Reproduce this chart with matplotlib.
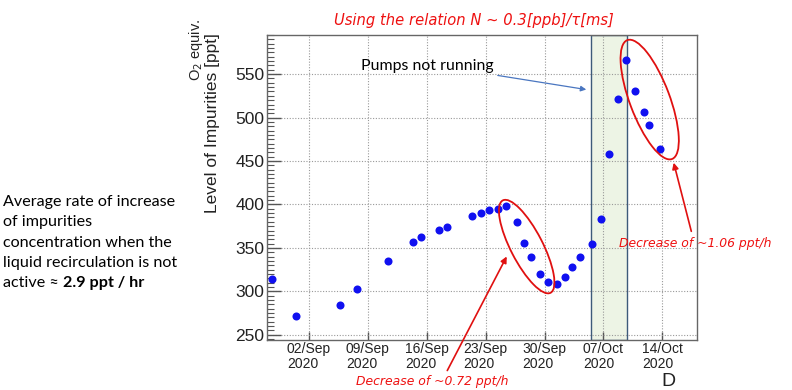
import matplotlib
matplotlib.use("Agg")
import matplotlib.pyplot as plt
import matplotlib.dates as mdates
from matplotlib.patches import Ellipse
from matplotlib.transforms import ScaledTranslation
import pandas as pd

# ---- data ----
dates = ["2020-08-28 14:00", "2020-08-31 12:00", "2020-09-05 17:30", "2020-09-07 16:00",
         "2020-09-11 10:00", "2020-09-14 08:00", "2020-09-15 07:00", "2020-09-17 10:00",
         "2020-09-18 11:00", "2020-09-21 10:00", "2020-09-22 10:00", "2020-09-23 09:00",
         "2020-09-24 11:00", "2020-09-25 09:00", "2020-09-26 16:00", "2020-09-27 14:00",
         "2020-09-28 08:00", "2020-09-29 10:00", "2020-09-30 09:00", "2020-10-01 11:00",
         "2020-10-02 09:00", "2020-10-03 07:00", "2020-10-04 06:30", "2020-10-05 15:00",
         "2020-10-06 16:30", "2020-10-07 17:00", "2020-10-08 17:00", "2020-10-09 16:30",
         "2020-10-10 17:00", "2020-10-11 19:00", "2020-10-12 11:00", "2020-10-13 16:30"]
impurities = [314, 272, 284, 303, 335, 357, 363, 371, 374.5, 387, 390, 394, 395, 398, 380, 356,
              339, 320, 311, 308, 317, 328, 339, 355, 383, 458, 521, 566, 531, 506, 491, 464]
tick_dates = ["2020-09-02", "2020-09-09", "2020-09-16", "2020-09-23", "2020-09-30",
              "2020-10-07", "2020-10-14"]
pumps_off = ["2020-10-05 12:00", "2020-10-09 20:00"]
x_range = ["2020-08-28 00:00", "2020-10-18 03:00"]
y_range = [244, 595]

x = pd.to_datetime(dates)
xt = pd.to_datetime(tick_dates)

fig = plt.figure(figsize=(7.92, 3.90), dpi=100)
ax = fig.add_axes([267/792, 1 - 340/390, 430/792, 305/390])

ax.axvspan(pd.Timestamp(pumps_off[0]), pd.Timestamp(pumps_off[1]),
           facecolor="#edf4e5", edgecolor="#3d5a7a", linewidth=1.0, zorder=1)
ax.plot(x, impurities, "o", color="#1010f0", markersize=5.8, markeredgewidth=0, zorder=3)

ax.set_xlim(pd.Timestamp(x_range[0]), pd.Timestamp(x_range[1]))
ax.set_ylim(*y_range)
ax.set_xticks(xt)
ax.xaxis.set_major_formatter(mdates.DateFormatter("%d/%b\n%Y"))
ax.yaxis.set_major_locator(matplotlib.ticker.MultipleLocator(50))
ax.yaxis.set_minor_locator(matplotlib.ticker.MultipleLocator(5))
ax.tick_params(axis="y", which="major", direction="in", length=10, width=1, color="#555555",
               labelsize=12.5, pad=2)
ax.tick_params(axis="y", which="minor", direction="in", length=5, width=0.8, color="#555555")
ax.tick_params(axis="x", which="major", direction="in", length=6, width=1, color="#555555",
               labelsize=10, pad=1.5)
for lab in ax.get_xticklabels():
    lab.set_multialignment("left")
    lab.set_linespacing(1.05)
for lab in ax.get_xticklabels() + ax.get_yticklabels():
    lab.set_fontfamily("Liberation Sans")
    lab.set_color("#222222")
ax.grid(True, which="major", linestyle=(0, (1, 1.5)), color="#999999", linewidth=0.8, zorder=0)
for s in ax.spines.values():
    s.set_color("#666666")
    s.set_linewidth(1.0)

# axis titles
fig.text(212/792, 1 - 123/390, "Level of Impurities [ppt]", rotation=90, ha="center", va="center",
         fontsize=12.5, family="Liberation Sans", color="#222222")
fig.text(196/792, 1 - 50/390, "O$_2$ equiv.", rotation=90, ha="center", va="center",
         fontsize=10.5, family="Liberation Sans", color="#222222")
fig.text(668/792, 1 - 381/390, "D", ha="center", va="center", fontsize=14,
         family="Liberation Sans", color="#222222")

# title
fig.text(474/792, 1 - 21/390, "Using the relation N ~ 0.3[ppb]/\u03c4[ms]", ha="center", va="center",
         fontsize=10.6, style="italic", family="DejaVu Sans", color="#ee1111")

# left note
note_fs = 11.6
note_lines = ["Average rate of increase", "of impurities", "concentration when the",
              "liquid recirculation is not"]
for i, t in enumerate(note_lines):
    fig.text(3/792, 1 - (202 + 20.3*i)/390, t, ha="left", va="center", fontsize=note_fs,
             family="Lato", color="black")
t1 = fig.text(3/792, 1 - (202 + 20.3*4)/390, "active \u2248", ha="left", va="center",
              fontsize=note_fs, family=["Lato", "DejaVu Sans"], color="black")
r = fig.canvas.get_renderer()
bb = t1.get_window_extent(renderer=r)
fig.text(bb.x1/792 + 4/792, 1 - (202 + 20.3*4)/390, "2.9 ppt / hr", ha="left", va="center",
         fontsize=note_fs, family="Lato", weight="bold", color="black")

# pumps annotation
fig.text(427/792, 1 - 66/390, "Pumps not running", ha="center", va="center", fontsize=11.4,
         family="Lato", color="black")
ax.annotate("", xy=(589, 390 - 90), xycoords="figure pixels", xytext=(495, 390 - 75),
            textcoords="figure pixels",
            arrowprops=dict(arrowstyle="-|>", color="#4a76c0", lw=0.9, mutation_scale=8))

# ellipses around decreasing segments
def ell(xc, yc, w, h, ang):
    tr = fig.dpi_scale_trans + ScaledTranslation(mdates.date2num(pd.Timestamp(xc)), yc, ax.transData)
    e = Ellipse((0, 0), w, h, angle=ang, transform=tr, fill=False, edgecolor="#e01010", lw=1.3,
                zorder=4, clip_on=False)
    ax.add_patch(e)

ell("2020-09-27 21:00", 351.5, 1.04, 0.32, -62.7)
ell("2020-10-12 12:00", 520.7, 1.27, 0.40, -69.4)

# decrease annotations
fig.text(432/792, 1 - 381/390, "Decrease of ~0.72 ppt/h", ha="center", va="center", fontsize=8.9,
         style="italic", family="DejaVu Sans", color="#ee1111")
ax.annotate("", xy=(508, 390 - 254), xycoords="figure pixels", xytext=(446, 390 - 373),
            textcoords="figure pixels",
            arrowprops=dict(arrowstyle="-|>", color="#e01010", lw=1.2, mutation_scale=9))
fig.text(695/792, 1 - 243/390, "Decrease of ~1.06 ppt/h", ha="center", va="center", fontsize=8.9,
         style="italic", family="DejaVu Sans", color="#ee1111")
ax.annotate("", xy=(673, 390 - 160), xycoords="figure pixels", xytext=(692, 390 - 234),
            textcoords="figure pixels",
            arrowprops=dict(arrowstyle="-|>", color="#e01010", lw=1.2, mutation_scale=9))

fig.savefig("out.png", dpi=100)
